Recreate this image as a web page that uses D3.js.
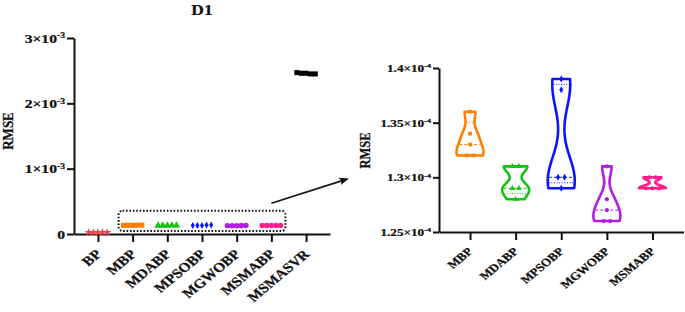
<!DOCTYPE html>
<html>
<head>
<meta charset="utf-8">
<script src="https://cdn.jsdelivr.net/npm/d3@7"></script>
<style>
  body { margin: 0; background: #fff; }
  text { font-family: "Liberation Serif", "Times New Roman", serif; font-weight: bold; fill: #111; stroke: #111; stroke-width: 0.25px; }
</style>
</head>
<body>
<svg id="chart" width="685" height="312"></svg>
<script>
// ---- data ----
const leftCategories = ["BP", "MBP", "MDABP", "MPSOBP", "MGWOBP", "MSMABP", "MSMASVR"];
const bpValues      = [2.4e-5, 2.5e-5, 2.5e-5, 2.6e-5, 2.5e-5];
const mbpValues     = [1.32e-4, 1.32e-4, 1.33e-4, 1.34e-4, 1.36e-4];
const mdabpValues   = [1.28e-4, 1.29e-4, 1.29e-4, 1.31e-4, 1.31e-4];
const mpsobpValues  = [1.29e-4, 1.30e-4, 1.30e-4, 1.38e-4, 1.39e-4];
const mgwobpValues  = [1.26e-4, 1.26e-4, 1.27e-4, 1.28e-4, 1.31e-4];
const msmabpValues  = [1.29e-4, 1.29e-4, 1.29e-4, 1.30e-4, 1.30e-4];
const msmasvrValues = [2.47e-3, 2.46e-3, 2.46e-3, 2.45e-3, 2.45e-3];

const rightCategories = ["MBP", "MDABP", "MPSOBP", "MGWOBP", "MSMABP"];

const leftTicks = [0, 1e-3, 2e-3, 3e-3];
const leftTickBase = ["0", "1×10", "2×10", "3×10"];
const leftTickExp = ["", "-3", "-3", "-3"];
const rightTicks = [1.25e-4, 1.30e-4, 1.35e-4, 1.40e-4];
const rightTickBase = ["1.25×10", "1.3×10", "1.35×10", "1.4×10"];
const rightTickExp = ["-4", "-4", "-4", "-4"];

const colors = {
  BP: "#f2414f", MBP: "#ff7f00", MDABP: "#14c214", MPSOBP: "#0a14ff",
  MGWOBP: "#b01ee6", MSMABP: "#ff1f8a", MSMASVR: "#000"
};
const symbols = {
  BP: d3.symbolStar, MBP: d3.symbolSquare, MDABP: d3.symbolTriangle, MPSOBP: d3.symbolDiamond,
  MGWOBP: d3.symbolCircle, MSMABP: d3.symbolCircle, MSMASVR: d3.symbolSquare
};
const symbolSizes = { BP: 22, MBP: 26, MDABP: 24, MPSOBP: 14, MGWOBP: 24, MSMABP: 24, MSMASVR: 26 };
const seriesByName = {
  BP: bpValues, MBP: mbpValues, MDABP: mdabpValues, MPSOBP: mpsobpValues,
  MGWOBP: mgwobpValues, MSMABP: msmabpValues, MSMASVR: msmasvrValues
};

// the source figure is stretched ~1.2x horizontally
const SX = 1.2;

const svg = d3.select("#chart");

function tickText(sel, base, exp) {
  sel.text(null);
  sel.append("tspan").text(base);
  if (exp) sel.append("tspan").attr("font-size", "0.62em").attr("dy", "-0.55em").text(exp);
}

function styleAxis(a) {
  a.select(".domain").attr("stroke", "#111").attr("stroke-width", 2);
  a.selectAll(".tick line").attr("stroke", "#111").attr("stroke-width", 2);
}

// ---- left panel ----
const xL = d3.scalePoint().domain(leftCategories).range([74, 330]).padding(0.69);
const yL = d3.scaleLinear().domain([0, 3e-3]).range([234, 38]);

const gL = svg.append("g");

gL.append("text").attr("transform", `translate(202,14.5) scale(${SX},1)`)
  .attr("text-anchor", "middle").attr("font-size", 14.5).text("D1");

const yAxisL = gL.append("g").attr("transform", `translate(74,0)`)
  .call(d3.axisLeft(yL).tickValues(leftTicks).tickSize(7).tickSizeOuter(0));
yAxisL.selectAll("text").attr("font-size", 13).attr("x", 0)
  .attr("transform", `translate(-9,0) scale(${SX},1)`)
  .each(function (d, i) { tickText(d3.select(this), leftTickBase[i], leftTickExp[i]); });

const xAxisL = gL.append("g").attr("transform", `translate(0,234)`)
  .call(d3.axisBottom(xL).tickSize(8).tickSizeOuter(0));
xAxisL.selectAll("text").attr("font-size", 13)
  .attr("text-anchor", "end").attr("dy", 0).attr("y", 0)
  .attr("transform", `translate(4,21) scale(${SX},1) rotate(-45)`);

styleAxis(yAxisL);
styleAxis(xAxisL);

gL.append("text").attr("transform", `translate(13,131) scale(${SX},1) rotate(-90)`)
  .attr("text-anchor", "middle").attr("font-size", 13).text("RMSE");

const offsets = [-9.2, -4.6, 0, 4.6, 9.2];
leftCategories.forEach(c => {
  gL.append("g").selectAll("path").data(seriesByName[c]).join("path")
    .attr("transform", (d, i) => `translate(${xL(c) + offsets[i]},${yL(d)})`)
    .attr("d", d3.symbol().type(symbols[c]).size(symbolSizes[c]))
    .attr("fill", colors[c]);
});

// zoom box and arrow
gL.append("rect")
  .attr("x", xL("MBP") - 14).attr("y", yL(3.57e-4))
  .attr("width", xL("MSMABP") - xL("MBP") + 28).attr("height", yL(0.45e-4) - yL(3.57e-4))
  .attr("rx", 4).attr("fill", "none").attr("stroke", "#111")
  .attr("stroke-width", 2).attr("stroke-dasharray", "1.6,1.8");

svg.append("defs").append("marker").attr("id", "arrow")
  .attr("viewBox", "0 0 10 10").attr("refX", 8).attr("refY", 5)
  .attr("markerWidth", 6).attr("markerHeight", 6).attr("orient", "auto")
  .append("path").attr("d", "M0,1 L10,5 L0,9 L2,5 Z").attr("fill", "#111");

gL.append("line")
  .attr("x1", xL("MSMABP")).attr("y1", yL(4.7e-4))
  .attr("x2", xL("MSMASVR") + 41).attr("y2", yL(8.4e-4))
  .attr("stroke", "#111").attr("stroke-width", 1.6).attr("marker-end", "url(#arrow)");

// ---- right panel ----
const xR = d3.scalePoint().domain(rightCategories).range([439, 683.5]).padding(0.68);
const yR = d3.scaleLinear().domain([1.25e-4, 1.40e-4]).range([232, 68]);

const gR = svg.append("g");

const yAxisR = gR.append("g").attr("transform", `translate(439,0)`)
  .call(d3.axisLeft(yR).tickValues(rightTicks).tickSize(6).tickSizeOuter(0));
yAxisR.selectAll("text").attr("font-size", 11).attr("x", 0)
  .attr("transform", `translate(-8,0) scale(${SX},1)`)
  .each(function (d, i) { tickText(d3.select(this), rightTickBase[i], rightTickExp[i]); });

const xAxisR = gR.append("g").attr("transform", `translate(0,232)`)
  .call(d3.axisBottom(xR).tickSize(8).tickSizeOuter(0));
xAxisR.selectAll("text").attr("font-size", 11)
  .attr("text-anchor", "end").attr("dy", 0).attr("y", 0)
  .attr("transform", `translate(3,20) scale(${SX},1) rotate(-45)`);

styleAxis(yAxisR);
styleAxis(xAxisR);

gR.append("text").attr("transform", `translate(370,150.5) scale(${SX},1) rotate(-90)`)
  .attr("text-anchor", "middle").attr("font-size", 12.5).text("RMSE");

// violins
function quant(sorted, p) {
  const pos = (sorted.length + 1) * p - 1;
  const lo = Math.floor(pos), hi = Math.ceil(pos);
  return sorted[lo] + (sorted[hi] - sorted[lo]) * (pos - lo);
}

rightCategories.forEach(c => {
  const vals = seriesByName[c].slice().sort(d3.ascending);
  const cx = xR(c);
  const h = d3.deviation(vals) * 0.45;
  const lo = vals[0], hiV = vals[vals.length - 1];
  const dens = v => d3.sum(vals, d => Math.exp(-0.5 * ((v - d) / h) ** 2));
  const grid = d3.range(0, 61).map(i => lo + (hiV - lo) * i / 60);
  const maxD = d3.max(grid, dens);
  const hw = v => 13.5 * dens(v) / maxD;
  const color = colors[c];
  const g = gR.append("g");

  g.append("path").datum(grid)
    .attr("d", d3.area().y(v => yR(v)).x0(v => cx - hw(v)).x1(v => cx + hw(v)).curve(d3.curveCatmullRom))
    .attr("fill", "#fff").attr("stroke", color).attr("stroke-width", 2.6)
    .attr("stroke-linejoin", "round");

  const med = quant(vals, 0.5), q1 = quant(vals, 0.25), q3 = quant(vals, 0.75);
  [[q1, "1,1.6"], [q3, "1,1.6"], [med, "3,2"]].forEach(([v, dash]) => {
    g.append("line").attr("x1", cx - hw(v) + 1).attr("x2", cx + hw(v) - 1)
      .attr("y1", yR(v)).attr("y2", yR(v))
      .attr("stroke", color).attr("stroke-width", 1).attr("stroke-dasharray", dash);
  });

  const pts = [];
  d3.groups(vals, d => d).forEach(([v, arr]) => {
    arr.forEach((d, i) => pts.push({ v: d, off: (i - (arr.length - 1) / 2) * 6.5 }));
  });
  g.selectAll(".pt").data(pts).join("path").attr("class", "pt")
    .attr("transform", d => `translate(${cx + d.off},${yR(d.v)})`)
    .attr("d", d3.symbol().type(symbols[c]).size(14))
    .attr("fill", color);
});
</script>
</body>
</html>
